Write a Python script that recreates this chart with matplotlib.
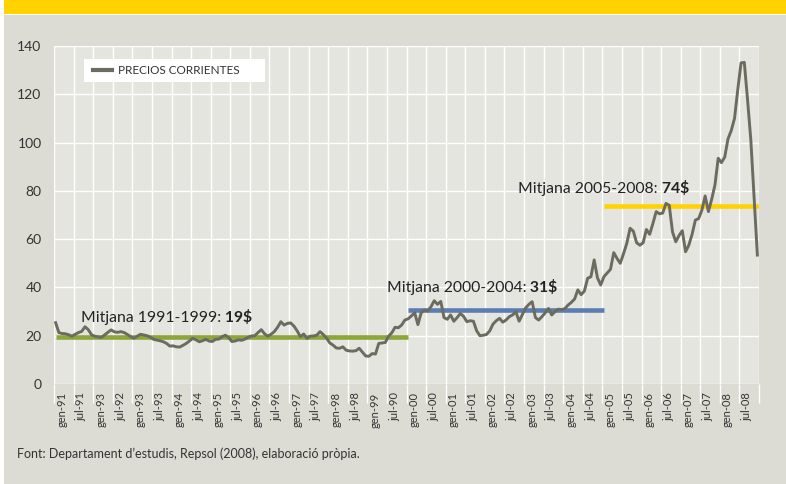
import matplotlib.pyplot as plt
import matplotlib.transforms as mtransforms
from matplotlib.patches import Rectangle
import numpy as np

# preu mensual, gen-91 .. des-08 (llegit del gràfic)
preus_1991 = [25.4, 21.3, 20.9, 20.8, 20.4, 19.8, 20.6, 21.3, 21.8, 23.7, 22.5, 20.4]
preus_1992 = [19.8, 19.5, 19.3, 20.3, 21.4, 22.4, 21.6, 21.4, 21.7, 21.3, 20.5, 19.6]
preus_1993 = [19.0, 19.8, 20.6, 20.3, 20.0, 19.4, 18.5, 18.2, 17.9, 17.5, 16.8, 15.7]
preus_1994 = [15.8, 15.4, 15.3, 16.0, 16.8, 17.8, 18.9, 18.3, 17.5, 17.9, 18.5, 17.8]
preus_1995 = [17.6, 18.5, 18.6, 19.6, 20.2, 19.2, 17.6, 17.8, 18.3, 18.1, 18.6, 19.4]
preus_1996 = [19.9, 20.0, 21.3, 22.5, 20.8, 19.8, 20.6, 21.7, 23.5, 25.8, 24.4, 25.1]
preus_1997 = [25.3, 24.0, 22.0, 19.6, 20.7, 18.9, 19.8, 19.9, 20.2, 21.7, 20.5, 19.0]
preus_1998 = [17.0, 16.1, 14.9, 14.8, 15.4, 14.0, 13.7, 13.6, 13.8, 14.8, 13.2, 11.6]
preus_1999 = [11.5, 12.6, 12.4, 16.8, 17.0, 17.2, 19.8, 21.2, 23.5, 23.3, 24.4, 26.5]
preus_2000 = [27.0, 28.2, 29.5, 24.6, 29.5, 30.6, 30.2, 32.0, 34.5, 33.0, 34.2, 27.5]
preus_2001 = [26.8, 28.6, 26.0, 27.5, 29.2, 28.0, 25.8, 26.2, 26.0, 22.0, 20.0, 20.2]
preus_2002 = [20.5, 22.0, 24.8, 26.2, 27.2, 25.6, 26.5, 27.9, 28.6, 29.9, 26.0, 28.8]
preus_2003 = [31.5, 33.0, 34.1, 27.5, 26.5, 27.9, 29.5, 31.3, 28.6, 30.0, 31.0, 30.8]
preus_2004 = [31.2, 32.7, 33.8, 35.2, 39.0, 37.0, 38.5, 43.8, 44.4, 51.4, 44.0, 41.0]
preus_2005 = [44.5, 46.0, 47.5, 54.4, 52.0, 50.0, 54.0, 58.3, 64.5, 63.3, 58.5, 57.5]
preus_2006 = [58.5, 64.0, 62.0, 66.5, 71.4, 70.5, 70.8, 74.8, 74.0, 63.0, 58.9, 61.5]
preus_2007 = [63.5, 54.8, 57.5, 62.0, 67.9, 68.5, 72.0, 77.9, 71.4, 76.5, 82.4, 93.5]
preus_2008 = [91.7, 94.0, 101.5, 105.0, 110.0, 122.0, 133.0, 133.2, 117.6, 101.0, 77.0, 53.4]

etiquetes = [
    "gen-91", "jul-91", "gen-93", "jul-92", "gen-93", "jul-93",
    "gen-94", "jul-94", "gen-95", "jul-95", "gen-96", "jul-96",
    "gen-97", "jul-97", "gen-98", "jul-98", "gen-99", "jul-90",
    "gen-00", "jul-00", "gen-01", "jul-01", "gen-02", "jul-02",
    "gen-03", "jul-03", "gen-04", "jul-04", "gen-05", "jul-05",
    "gen-06", "jul-06", "gen-07", "jul-07", "gen-08", "jul-08",
]

periodes = [(1991, 1999), (2000, 2004), (2005, 2008)]
mitjanes = [19.3, 30.7, 73.9]
mitjanes_txt = ["19$", "31$", "74$"]
colors_mitjana = ["#8ca63a", "#5b7db3", "#ffd200"]

preus = np.concatenate([
    preus_1991, preus_1992, preus_1993, preus_1994, preus_1995, preus_1996,
    preus_1997, preus_1998, preus_1999, preus_2000, preus_2001, preus_2002,
    preus_2003, preus_2004, preus_2005, preus_2006, preus_2007, preus_2008,
])
mesos = np.arange(len(preus))

plt.rcParams["font.family"] = ["Lato", "DejaVu Sans"]

FONS = "#dcdcd5"
FONS_AREA = "#e5e5df"
TEXT = "#333333"

fig = plt.figure(figsize=(7.86, 4.84), dpi=100, facecolor=FONS)
W, H = 786, 484

# franja groga de dalt i vora blanca
fig.patches.append(Rectangle((0, 0), 4 / W, 1, transform=fig.transFigure,
                             facecolor="white", edgecolor="none", zorder=0))
fig.patches.append(Rectangle((4 / W, 1 - 15 / H), 1, 1 / H, transform=fig.transFigure,
                             facecolor="white", edgecolor="none", zorder=0))
fig.patches.append(Rectangle((4 / W, 1 - 14 / H), 1, 14 / H, transform=fig.transFigure,
                             facecolor="#ffd200", edgecolor="none", zorder=0))

ax = fig.add_axes([54 / W, 100 / H, 705 / W, 338 / H])
ax.set_facecolor(FONS_AREA)
for s in ax.spines.values():
    s.set_visible(False)

ax.set_xlim(-0.5, len(mesos) - 0.5)
ax.set_ylim(0, 140)
ax.set_yticks(range(0, 141, 20))
ax.tick_params(axis="y", length=0, pad=9, labelsize=10, labelcolor=TEXT)

ax.set_xticks(np.arange(0, len(mesos), 6))
ax.set_xticklabels(etiquetes, rotation=90, fontsize=8, color=TEXT, va="top")
ax.set_xticks(np.arange(-0.5, len(mesos), 6), minor=True)
ax.tick_params(axis="x", which="major", length=0, pad=6)
ax.tick_params(axis="x", which="minor", length=14, width=1, color="white", direction="out")
desp = mtransforms.ScaledTranslation(6 / 100, 0, fig.dpi_scale_trans)
for lab in ax.get_xticklabels():
    lab.set_transform(lab.get_transform() + desp)

ax.grid(axis="y", color="white", linewidth=1)
ax.grid(axis="x", which="minor", color="white", linewidth=1)
ax.set_axisbelow(True)

for (a0, a1), m, c in zip(periodes, mitjanes, colors_mitjana):
    ax.hlines(m, (a0 - 1991) * 12, (a1 - 1991 + 1) * 12, color=c, linewidth=3.3, zorder=2)

ax.plot(mesos, preus, color="#6b6b5f", linewidth=2.1, zorder=3,
        solid_joinstyle="round", label="PRECIOS CORRIENTES")

# etiquetes de les mitjanes
pos_txt = [(7.8, 25.7), (101.4, 38.0), (141.7, 79.2)]
for (a0, a1), txt, (tx, ty) in zip(periodes, mitjanes_txt, pos_txt):
    t = ax.text(tx, ty, f"Mitjana {a0}-{a1}:", fontsize=11.3, color="#222222",
                va="baseline", ha="left", zorder=4)
    ax.annotate(" " + txt, xy=(1, 0), xycoords=t, fontsize=11.3, fontweight="bold",
                color="#222222", va="bottom", ha="left", zorder=4)

# caixa blanca de la llegenda (més ampla a la dreta, com l'original)
ax.add_patch(Rectangle((30 / 705, 302 / 338), 181 / 705, 23 / 338, transform=ax.transAxes,
                       facecolor="white", edgecolor="none", zorder=5))
leg = ax.legend(loc="center left", bbox_to_anchor=(39 / 705, 313.5 / 338), frameon=False,
                fontsize=8.5, handlelength=1.6, handletextpad=0.55, borderpad=0,
                borderaxespad=0)
leg.set_zorder(6)
for h in leg.get_lines():
    h.set_linewidth(3)
for t in leg.get_texts():
    t.set_color(TEXT)

fig.text(17 / W, 1 - 454 / H,
         "Font: Departament d’estudis, Repsol (2008), elaboració pròpia.",
         fontsize=9, color=TEXT, va="center", ha="left")

fig.savefig("out.png", dpi=100, facecolor=FONS)
